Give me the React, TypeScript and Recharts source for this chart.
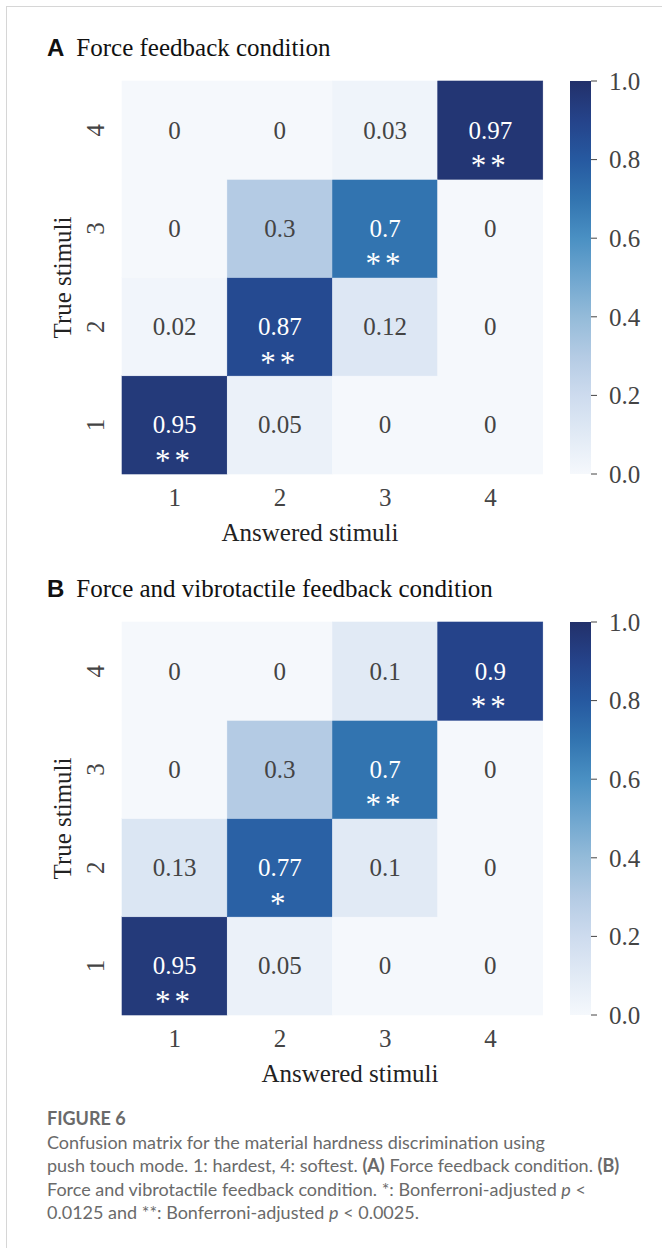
import { Bar, BarChart, Label, XAxis, YAxis } from "recharts";

const answered = ["1", "2", "3", "4"];
const trueStimuli = ["1", "2", "3", "4"];

// rows = true stimulus 1..4, columns = answered stimulus 1..4
const forceValues = [
  [0.95, 0.05, 0, 0],
  [0.02, 0.87, 0.12, 0],
  [0, 0.3, 0.7, 0],
  [0, 0, 0.03, 0.97],
];
const forceStars = [
  ["**", "", "", ""],
  ["", "**", "", ""],
  ["", "", "**", ""],
  ["", "", "", "**"],
];

const vibroValues = [
  [0.95, 0.05, 0, 0],
  [0.13, 0.77, 0.1, 0],
  [0, 0.3, 0.7, 0],
  [0, 0, 0.1, 0.9],
];
const vibroStars = [
  ["**", "", "", ""],
  ["", "*", "", ""],
  ["", "", "**", ""],
  ["", "", "", "**"],
];

const colorbarTicks = [0, 0.2, 0.4, 0.6, 0.8, 1.0];

const SERIF = "'Liberation Serif', 'Times New Roman', serif";
const SANS = "'Liberation Sans', Arial, sans-serif";
const FS = 25;

// muted "Blues" map
const stops: [number, string][] = [
  [0, "#f5f8fc"],
  [0.1, "#e1eaf5"],
  [0.2, "#cddbee"],
  [0.3, "#b4cbe4"],
  [0.4, "#94bbd9"],
  [0.5, "#6fa6cf"],
  [0.6, "#4a90c3"],
  [0.7, "#3274b0"],
  [0.8, "#2659a0"],
  [0.9, "#25438a"],
  [1, "#22306a"],
];

function hexToRgb(h: string) {
  const n = parseInt(h.slice(1), 16);
  return [(n >> 16) & 255, (n >> 8) & 255, n & 255];
}

function colorFor(v: number) {
  for (let i = 1; i < stops.length; i++) {
    const [v1, c1] = stops[i];
    const [v0, c0] = stops[i - 1];
    if (v <= v1) {
      const t = (v - v0) / (v1 - v0);
      const a = hexToRgb(c0);
      const b = hexToRgb(c1);
      const m = a.map((x, k) => Math.round(x + (b[k] - x) * t));
      return `rgb(${m[0]},${m[1]},${m[2]})`;
    }
  }
  return stops[stops.length - 1][1];
}

type PanelProps = {
  id: string;
  top: number;
  letter: string;
  title: string;
  values: number[][];
  stars: string[][];
  xLabelCenter: number;
};

function Panel({ id, top, letter, title, values, stars, xLabelCenter }: PanelProps) {
  // one column per answered stimulus, stacked unit blocks for the 4 true stimuli
  const data = answered.map((a) => {
    const row: Record<string, string | number> = { answered: a };
    trueStimuli.forEach((t) => (row[`t${t}`] = 1));
    return row;
  });

  const cellShape = (rowIdx: number) => (props: any) => {
    const { x, y, width, height, payload } = props;
    const col = answered.indexOf(payload.answered);
    const v = values[rowIdx][col];
    const s = stars[rowIdx][col];
    const fill = colorFor(v);
    const txt = v >= 0.5 ? "#ffffff" : "#444444";
    const cx = x + width / 2;
    const cy = y + height / 2;
    return (
      <g>
        <rect x={x} y={y} width={width} height={height} fill={fill} stroke={fill} strokeWidth={0.6} />
        <text x={cx} y={cy} textAnchor="middle" dominantBaseline="central" fill={txt} fontFamily={SERIF} fontSize={FS}>
          {String(v)}
        </text>
        {s && (
          <text x={cx} y={cy + 46} textAnchor="middle" fill={txt} fontFamily={SERIF} fontSize={31} letterSpacing={4}>
            {s}
          </text>
        )}
      </g>
    );
  };

  return (
    <>
      <div
        style={{
          position: "absolute",
          left: 47,
          top: top - 26,
          fontSize: FS,
          lineHeight: "28px",
          whiteSpace: "nowrap",
          color: "#111",
        }}
      >
        <span style={{ fontFamily: SANS, fontWeight: 700, fontSize: 24 }}>{letter}</span>
        <span style={{ fontFamily: SERIF, marginLeft: 12 }}>{title}</span>
      </div>

      <div style={{ position: "absolute", left: 0, top }}>
        <BarChart
          width={560}
          height={490}
          data={data}
          margin={{ top: 21, right: 17, bottom: 0, left: 42 }}
          barCategoryGap={0}
          barGap={0}
        >
          <XAxis
            dataKey="answered"
            type="category"
            height={76}
            axisLine={false}
            tickLine={false}
            tickSize={0}
            tickMargin={23}
            tick={(p: any) => (
              <text x={p.x} y={p.y} textAnchor="middle" dominantBaseline="central" fill="#444" fontFamily={SERIF} fontSize={FS}>
                {p.payload.value}
              </text>
            )}
          >
            <Label
              content={(p: any) => (
                <text
                  x={xLabelCenter}
                  y={p.viewBox.y + 58}
                  textAnchor="middle"
                  dominantBaseline="central"
                  fill="#222"
                  fontFamily={SERIF}
                  fontSize={FS}
                >
                  Answered stimuli
                </text>
              )}
            />
          </XAxis>
          <YAxis
            type="number"
            domain={[0, 4]}
            ticks={[0.5, 1.5, 2.5, 3.5]}
            width={80}
            axisLine={false}
            tickLine={false}
            tickSize={0}
            tickMargin={27}
            tick={(p: any) => (
              <text
                x={p.x}
                y={p.y}
                transform={`rotate(-90 ${p.x} ${p.y})`}
                textAnchor="middle"
                dominantBaseline="central"
                fill="#444"
                fontFamily={SERIF}
                fontSize={FS}
              >
                {trueStimuli[Math.floor(p.payload.value)]}
              </text>
            )}
          >
            <Label
              content={(p: any) => {
                const cx = 62;
                const cy = p.viewBox.y + p.viewBox.height / 2;
                return (
                  <text
                    x={cx}
                    y={cy}
                    transform={`rotate(-90 ${cx} ${cy})`}
                    textAnchor="middle"
                    dominantBaseline="central"
                    fill="#222"
                    fontFamily={SERIF}
                    fontSize={FS}
                  >
                    True stimuli
                  </text>
                );
              }}
            />
          </YAxis>
          {trueStimuli.map((t, rowIdx) => (
            <Bar
              key={t}
              dataKey={`t${t}`}
              stackId="m"
              isAnimationActive={false}
              shape={cellShape(rowIdx)}
            />
          ))}
        </BarChart>
      </div>

      <div style={{ position: "absolute", left: 560, top }}>
        <BarChart
          width={102}
          height={444}
          data={[{ k: "scale", v: 1 }]}
          margin={{ top: 21, right: 0, bottom: 30, left: 10 }}
          barCategoryGap={0}
        >
          <defs>
            <linearGradient id={`cb-${id}`} x1="0" y1="1" x2="0" y2="0">
              {stops.map(([v, c]) => (
                <stop key={v} offset={`${v * 100}%`} stopColor={c} />
              ))}
            </linearGradient>
          </defs>
          <XAxis dataKey="k" type="category" hide />
          <YAxis
            orientation="right"
            type="number"
            domain={[0, 1]}
            ticks={colorbarTicks}
            width={71}
            axisLine={false}
            tickLine={{ stroke: "#444" }}
            tickSize={6}
            tickMargin={12}
            tickFormatter={(v: number) => v.toFixed(1)}
            tick={{ fill: "#444", fontFamily: SERIF, fontSize: FS }}
          />
          <Bar dataKey="v" fill={`url(#cb-${id})`} isAnimationActive={false} />
        </BarChart>
      </div>
    </>
  );
}

export default function App() {
  return (
    <div
      style={{
        position: "absolute",
        left: 0,
        top: 0,
        width: 662,
        height: 1248,
        background: "#fff",
        overflow: "hidden",
      }}
    >
      <div
        style={{
          position: "absolute",
          left: 6,
          top: 6,
          width: 700,
          height: 1300,
          borderTop: "1px solid #d6d6d6",
          borderLeft: "1px solid #d6d6d6",
        }}
      />
      <Panel
        id="a"
        top={60}
        letter="A"
        title="Force feedback condition"
        values={forceValues}
        stars={forceStars}
        xLabelCenter={310}
      />
      <Panel
        id="b"
        top={601}
        letter="B"
        title="Force and vibrotactile feedback condition"
        values={vibroValues}
        stars={vibroStars}
        xLabelCenter={350}
      />
      <div
        style={{
          position: "absolute",
          left: 47,
          top: 1107,
          fontFamily: "Lato, 'Open Sans', sans-serif",
          fontSize: 18,
          lineHeight: "23.5px",
          color: "#6a6a6a",
          whiteSpace: "nowrap",
        }}
      >
        <div style={{ fontWeight: 700 }}>FIGURE 6</div>
        <div>Confusion matrix for the material hardness discrimination using</div>
        <div>
          push touch mode. 1: hardest, 4: softest. <b>(A)</b> Force feedback condition. <b>(B)</b>
        </div>
        <div>
          Force and vibrotactile feedback condition. *: Bonferroni-adjusted <i>p</i> &lt;
        </div>
        <div>
          0.0125 and **: Bonferroni-adjusted <i>p</i> &lt; 0.0025.
        </div>
      </div>
    </div>
  );
}
